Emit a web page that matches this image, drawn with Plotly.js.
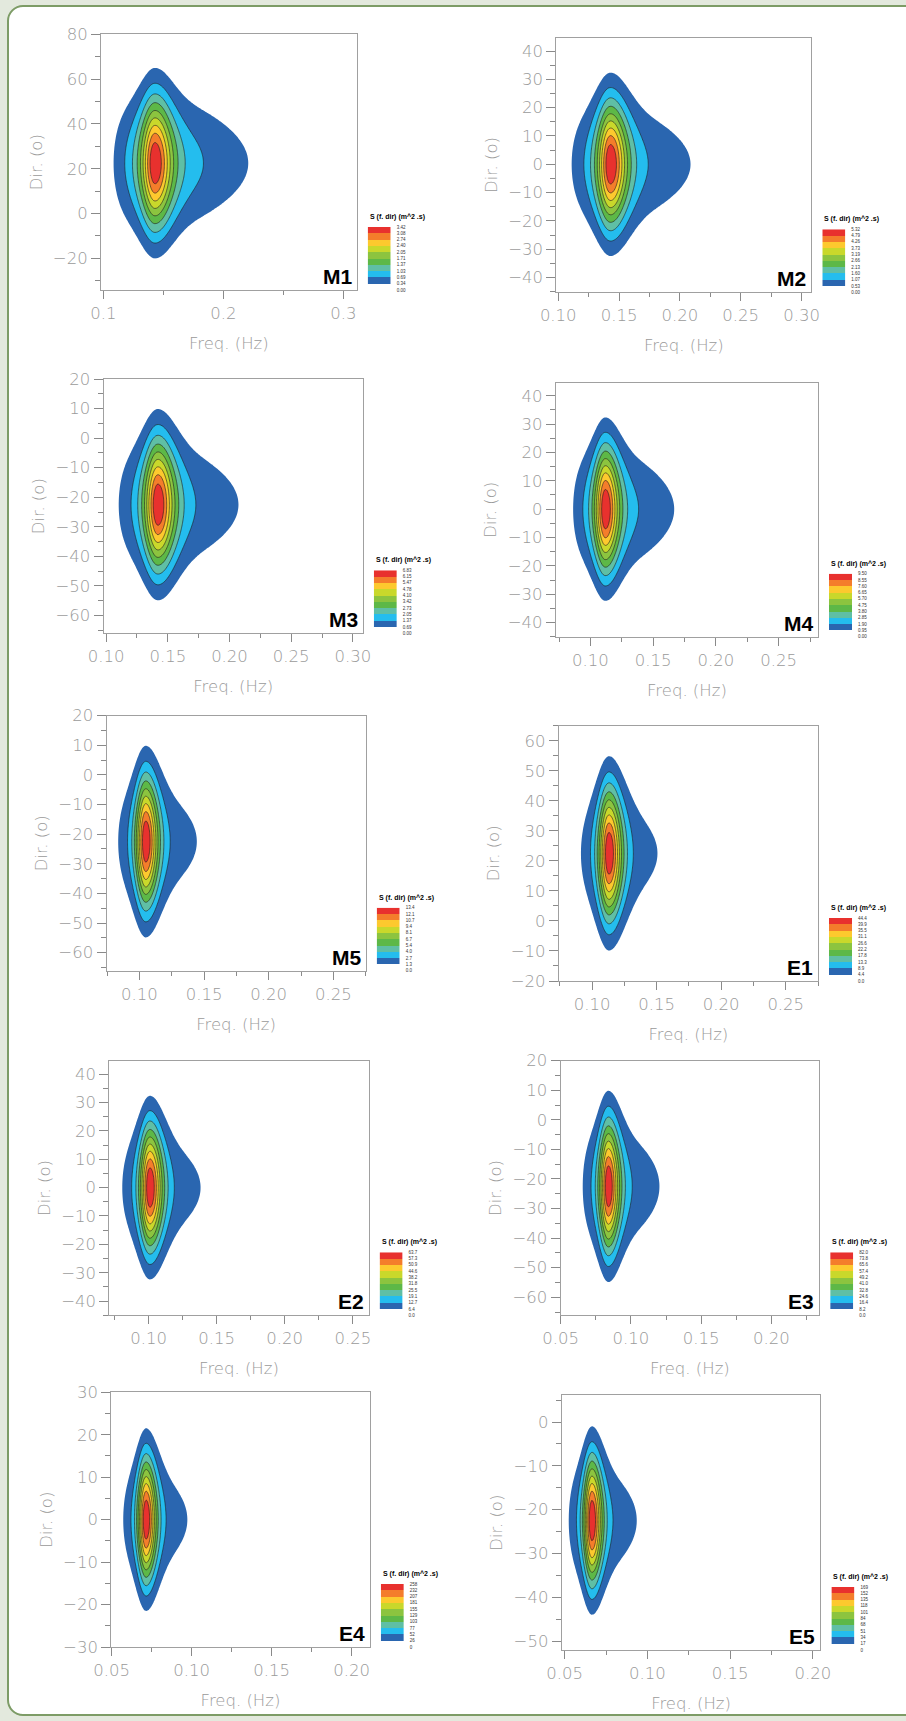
<!DOCTYPE html>
<html><head><meta charset="utf-8">
<script src="https://cdn.plot.ly/plotly-3.0.1.min.js"></script>
<style>
html,body{margin:0;padding:0;background:#e3e9dd;width:906px;height:1721px;overflow:hidden;}
#frame{position:absolute;left:7px;top:5px;width:940px;height:1711px;background:#fff;border:2.5px solid #7d9c66;border-radius:16px;box-sizing:border-box;}
#chart{position:absolute;left:0;top:0;width:906px;height:1721px;}
</style></head><body><div id="frame"></div><div id="chart"></div>
<script>
// ---------------- data ----------------
const panelNames = ['M1','M2','M3','M4','M5','E1','E2','E3','E4','E5'];
const peakFreq   = [0.143, 0.143, 0.142, 0.112, 0.105, 0.113, 0.101, 0.084, 0.0715, 0.0665];
const peakDir    = [22.5, 0, -22.5, 0, -22.5, 22.5, 0, -22.5, 0, -22.5];
const peakGamma  = [3.2, 4.0, 4.0, 3.7, 5.0, 5.6, 5.1, 4.3, 5.2, 4.6];
const spreadExp  = [32.7, 57, 57, 57, 57, 57, 57, 57, 130, 130];
const freqRanges = [[0.098,0.311],[0.0984,0.308],[0.098,0.308],[0.0725,0.2813],[0.0746,0.275],
                    [0.0741,0.275],[0.0712,0.2616],[0.05,0.234],[0.0497,0.2113],[0.0482,0.2046]];
const dirRanges  = [[-34.1,80],[-45.2,44.7],[-66,20],[-45,44.6],[-66.1,20],
                    [-20,65],[-45,44.7],[-66.1,20],[-30,30],[-52.05,6.1]];
const levelsM1 = ['3.42','3.08','2.74','2.40','2.05','1.71','1.37','1.03','0.69','0.34','0.00'];
const levelsM2 = ['5.32','4.79','4.26','3.73','3.19','2.66','2.13','1.60','1.07','0.53','0.00'];
const levelsM3 = ['6.83','6.15','5.47','4.78','4.10','3.42','2.73','2.05','1.37','0.69','0.00'];
const levelsM4 = ['9.50','8.55','7.60','6.65','5.70','4.75','3.80','2.85','1.90','0.95','0.00'];
const levelsM5 = ['13.4','12.1','10.7','9.4','8.1','6.7','5.4','4.0','2.7','1.3','0.0'];
const levelsE1 = ['44.4','39.9','35.5','31.1','26.6','22.2','17.8','13.3','8.9','4.4','0.0'];
const levelsE2 = ['63.7','57.3','50.9','44.6','38.2','31.8','25.5','19.1','12.7','6.4','0.0'];
const levelsE3 = ['82.0','73.8','65.6','57.4','49.2','41.0','32.8','24.6','16.4','8.2','0.0'];
const levelsE4 = ['258','232','207','181','155','129','103','77','52','26','0'];
const levelsE5 = ['169','152','135','118','101','84','68','51','34','17','0'];
const legendLabels = [levelsM1,levelsM2,levelsM3,levelsM4,levelsM5,levelsE1,levelsE2,levelsE3,levelsE4,levelsE5];
const xTickStep = [0.1,0.05,0.05,0.05,0.05,0.05,0.05,0.05,0.05,0.05];
const yTickStep = [20,10,10,10,10,10,10,10,10,10];
const legendTitle = 'S (f. dir) (m^2 .s)';

// ---------------- layout geometry (pixels) ----------------
const W = 906, H = 1721;
const boxes = [ // left, top, right, bottom
  [101,34.3,356.7,290],[556.3,37.7,811.3,292.3],
  [103.6,379,362.8,633.3],[555.9,382.7,818,636.7],
  [106.5,715.7,365.7,970.7],[558.8,725.7,818,981],
  [109.4,1060.7,368.6,1315.3],[560.6,1060.7,819.2,1315.3],
  [111.2,1392.3,369.8,1647],[561.7,1395.3,820.4,1650]];
const bandColors = ['#ffffff','#2a66b0','#24bdee','#5fbfa5','#5db847','#8cc43f','#c9d82b','#fdc92e','#f47d2b','#e8312e'];

const px = v => v / W;
const py = v => 1 - v / H;

function freqShape(x, g) {
  const sig = x <= 1 ? 0.07 : 0.09;
  const r = Math.exp(-Math.pow(x - 1, 2) / (2 * sig * sig));
  return Math.pow(x, -5) * Math.exp(-1.25 * (Math.pow(x, -4) - 1)) * Math.pow(g, r - 1);
}
function dirShape(d, s2) {
  const c = Math.cos(d * Math.PI / 360);
  return c > 0 ? Math.pow(c, s2) : 0;
}

const fillScale = bandColors.map((c, k) => [k / 10, c]).concat([[1, bandColors[9]]]);
const legScale = bandColors.map((c, k) => [k / 9, c]);

const tickFont = {family:'DejaVu Sans, sans-serif', size:16.5, color:'#9a9a9a', weight:200};
const traces = [];
const layout = {width:W, height:H, margin:{l:0,r:0,t:0,b:0}, paper_bgcolor:'rgba(0,0,0,0)',
  plot_bgcolor:'#ffffff', showlegend:false, annotations:[]};

panelNames.forEach((name, p) => {
  const [L, T, R, B] = boxes[p];
  const xr = freqRanges[p], yr = dirRanges[p];
  const maxS = parseFloat(legendLabels[p][0]);
  const step = maxS / 10;
  const nF = 200, nD = 200;
  const f = [], th = [];
  for (let i = 0; i < nF; i++) f.push(xr[0] + (xr[1] - xr[0]) * i / (nF - 1));
  for (let j = 0; j < nD; j++) th.push(yr[0] + (yr[1] - yr[0]) * j / (nD - 1));
  const z = th.map(t => f.map(fr => maxS * freqShape(fr / peakFreq[p], peakGamma[p]) * dirShape(t - peakDir[p], spreadExp[p])));
  const xa = 'x' + (2*p+1), ya = 'y' + (2*p+1);
  traces.push({type:'contour', x:f, y:th, z:z, xaxis:xa, yaxis:ya,
    contours:{start:step, end:10*step, size:step, coloring:'fill', showlines:false},
    colorscale:fillScale, showscale:false, hoverinfo:'skip', line:{width:0, smoothing:1}});
  traces.push({type:'contour', x:f, y:th, z:z, xaxis:xa, yaxis:ya,
    contours:{start:2*step, end:9*step, size:step, coloring:'none'},
    showscale:false, hoverinfo:'skip', line:{color:'#1c1c1c', width:0.6, smoothing:1}});
  // legend swatches
  const lx = 'x' + (2*p+2), ly = 'y' + (2*p+2);
  traces.push({type:'heatmap', x:[0], y:[0.5,1.5,2.5,3.5,4.5,5.5,6.5,7.5,8.5,9.5],
    z:[[0],[1],[2],[3],[4],[5],[6],[7],[8],[9]], zmin:0, zmax:9, colorscale:legScale,
    showscale:false, hoverinfo:'skip', xaxis:lx, yaxis:ly});

  const xs = xTickStep[p];
  layout['xaxis' + (2*p+1)] = {domain:[px(L), px(R)], anchor:ya, range:xr,
    showline:true, mirror:true, linecolor:'#a0a0a0', linewidth:1,
    ticks:'outside', ticklen:8, tickwidth:1, tickcolor:'#8a8a8a',
    tick0:0, dtick:xs, tickformat: xs === 0.1 ? '.1f' : '.2f',
    minor:{dtick:xs/2, tick0:0, ticks:'outside', ticklen:4, tickwidth:1, tickcolor:'#8a8a8a'},
    showgrid:false, zeroline:false, tickfont:tickFont, fixedrange:true,
    title:{text:'Freq. (Hz)', font:tickFont, standoff:15}};
  const ys = yTickStep[p];
  layout['yaxis' + (2*p+1)] = {domain:[py(B), py(T)], anchor:xa, range:yr,
    showline:true, mirror:true, linecolor:'#a0a0a0', linewidth:1,
    ticks:'outside', ticklen:9, tickwidth:1, tickcolor:'#8a8a8a',
    tick0:0, dtick:ys,
    minor:{dtick:ys/2, tick0:0, ticks:'outside', ticklen:5, tickwidth:1, tickcolor:'#8a8a8a'},
    showgrid:false, zeroline:false, tickfont:tickFont, fixedrange:true,
    title:{text:'Dir. (o)', font:tickFont, standoff:6}};

  const sl = R + 11, sw = 23, sh = 63;
  layout['xaxis' + (2*p+2)] = {domain:[px(sl), px(sl+sw)], anchor:ly, range:[-0.5,0.5], visible:false, fixedrange:true};
  layout['yaxis' + (2*p+2)] = {domain:[py(B), py(B - sh)], anchor:lx, range:[0,10], side:'right',
    tickvals:[10,9,8,7,6,5,4,3,2,1,0], ticktext:legendLabels[p], ticks:'', showline:false,
    showgrid:false, zeroline:false, ticklabelstandoff:5, fixedrange:true,
    tickfont:{family:'Liberation Sans, Arial, sans-serif', size:4.5, color:'#333'}};

  layout.annotations.push({xref:'paper', yref:'paper', x:px(sl), y:py(B - sh), xanchor:'left', yanchor:'bottom',
    yshift:4, text:legendTitle, showarrow:false,
    font:{family:'Liberation Sans, Arial, sans-serif', size:7, color:'#000', weight:'bold'}});
  layout.annotations.push({xref:'paper', yref:'paper', x:px(R), y:py(B), xanchor:'right', yanchor:'bottom',
    xshift:-3, yshift:0, text:name, showarrow:false,
    font:{family:'Liberation Sans, Arial, sans-serif', size:21, color:'#000', weight:'bold'}});
});

Plotly.newPlot('chart', traces, layout, {staticPlot:true, displayModeBar:false});
</script></body></html>
